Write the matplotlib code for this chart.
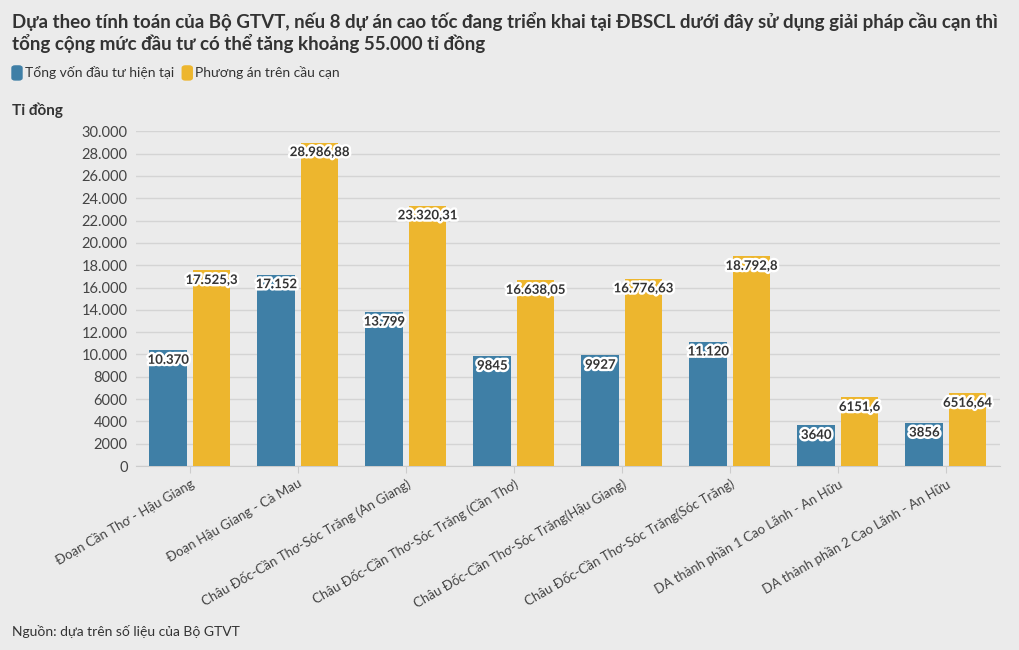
import matplotlib.pyplot as plt
import matplotlib.patheffects as pe
from matplotlib.patches import FancyBboxPatch
import numpy as np

plt.rcParams['font.family'] = ['Lato', 'DejaVu Sans']

categories = [
    'Đoạn Cần Thơ - Hậu Giang',
    'Đoạn Hậu Giang - Cà Mau',
    'Châu Đốc-Cần Thơ-Sóc Trăng (An Giang)',
    'Châu Đốc-Cần Thơ-Sóc Trăng (Cần Thơ)',
    'Châu Đốc-Cần Thơ-Sóc Trăng(Hậu Giang)',
    'Châu Đốc-Cần Thơ-Sóc Trăng(Sóc Trăng)',
    'DA thành phần 1 Cao Lãnh - An Hữu',
    'DA thành phần 2 Cao Lãnh - An Hữu',
]
von_hien_tai = [10370, 17152, 13799, 9845, 9927, 11120, 3640, 3856]
cau_can = [17525.3, 28986.88, 23320.31, 16638.05, 16776.63, 18792.8, 6151.6, 6516.64]
series_names = ['Tổng vốn đầu tư hiện tại', 'Phương án trên cầu cạn']
yticks = np.arange(0, 30001, 2000)

BLUE = '#3f7fa6'
YELLOW = '#edb62e'
BG = '#ebebeb'
TXT = '#333333'


def fmt(v):
    # Vietnamese style: "." thousands (only from 10.000), "," decimals
    if float(v).is_integer():
        whole, dec = int(v), ''
    else:
        s = repr(float(v))
        whole, dec = int(s.split('.')[0]), s.split('.')[1]
    w = f'{whole:,}'.replace(',', '.') if whole >= 10000 else str(whole)
    return w + (',' + dec if dec else '')


fig = plt.figure(figsize=(10.2, 6.5), dpi=100, facecolor=BG)
ax = fig.add_axes([0.1333, 0.283, 0.847, 0.515])
ax.set_facecolor(BG)

x = np.arange(len(categories))
w = 0.35
b1 = ax.bar(x - 0.2, von_hien_tai, w, color=BLUE, zorder=3)
b2 = ax.bar(x + 0.2, cau_can, w, color=YELLOW, zorder=3)

halo = [pe.withStroke(linewidth=3.5, foreground='white')]
for bars, vals in ((b1, von_hien_tai), (b2, cau_can)):
    for bar, v in zip(bars, vals):
        ax.text(bar.get_x() + bar.get_width() / 2, v - 850, fmt(v),
                ha='center', va='center', fontsize=9.5, fontweight='bold',
                color=TXT, path_effects=halo, zorder=5)

ax.set_xlim(-0.5, 7.5)
ax.set_ylim(0, 30000)
ax.set_yticks(yticks)
ax.set_yticklabels([fmt(v) for v in yticks], fontsize=10.5, color='#444444')
ax.set_xticks(x)
ax.set_xticklabels(categories, rotation=30, ha='right', rotation_mode='anchor',
                   fontsize=9.5, color='#444444')
ax.tick_params(axis='y', length=0, pad=6)
ax.tick_params(axis='x', length=5, color='#cccccc', pad=3)
ax.grid(axis='y', color='#d4d4d4', linewidth=1, zorder=0)
for s in ['top', 'right', 'left']:
    ax.spines[s].set_visible(False)
ax.spines['bottom'].set_color('#cccccc')

fig.text(0.012, 0.982, 'Dựa theo tính toán của Bộ GTVT, nếu 8 dự án cao tốc đang triển khai tại ĐBSCL dưới đây sử dụng giải pháp cầu cạn thì\n'
         'tổng cộng mức đầu tư có thể tăng khoảng 55.000 tỉ đồng',
         ha='left', va='top', fontsize=13.5, fontweight='bold', color=TXT, linespacing=1.2)

# legend
lx = 12 / 1020
for name, col in zip(series_names, [BLUE, YELLOW]):
    fig.patches.append(FancyBboxPatch((lx, 0.877), 10 / 1020, 14 / 650,
                                      boxstyle='round,pad=0,rounding_size=0.003',
                                      transform=fig.transFigure, color=col))
    t = fig.text(lx + 13 / 1020, 0.888, name, ha='left', va='center',
                 fontsize=10, color=TXT)
    fig.canvas.draw()
    bb = t.get_window_extent()
    lx = (bb.x1 + 8) / 1020

fig.text(0.012, 0.831, 'Tỉ đồng', ha='left', va='center', fontsize=11,
         fontweight='bold', color=TXT)
fig.text(0.012, 0.028, 'Nguồn: dựa trên số liệu của Bộ GTVT', ha='left',
         va='center', fontsize=10, color=TXT)

fig.savefig('out.png', dpi=100, facecolor=BG)
